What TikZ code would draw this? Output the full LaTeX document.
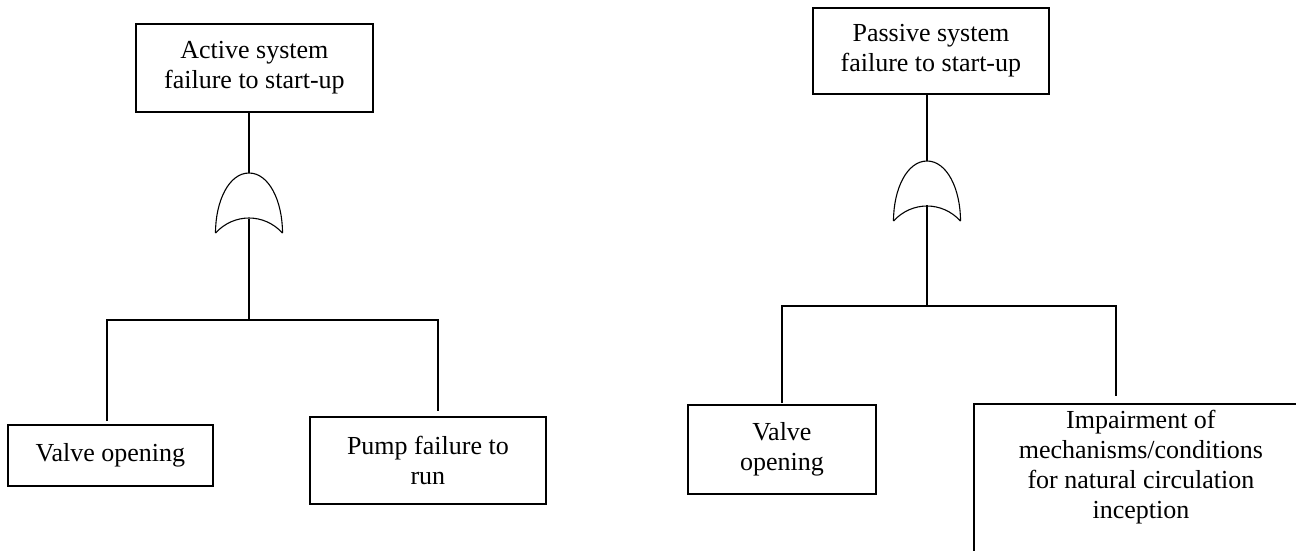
\documentclass[tikz,border=0pt]{standalone}
\usepackage{fontspec}
\setmainfont{Liberation Serif}
\usetikzlibrary{calc}
\newcommand{\evfont}{\fontsize{26}{30}\selectfont}
\tikzset{
     event/.style = {draw, line width=1.8pt, align=center, font=\evfont,
                     inner sep=0pt, anchor=north west},
      link/.style = {line width=1.8pt},
      stem/.style = {line width=2.4pt},
  gateline/.style = {line width=1.1pt},
    orgate/.pic   = {
        \draw[gateline] (-33.5,60) .. controls (-33.5,28) and (-20,0) .. (0,0)
                        .. controls (20,0) and (33.5,28) .. (33.5,60);
        \draw[gateline] (-33.5,60) .. controls (-15,40) and (15,40) .. (33.5,60);
        },
}
\begin{document}
\begin{tikzpicture}[x=1pt, y=-1pt]
  \useasboundingbox (0,0) rectangle (1296,551);
  \clip (0,0) rectangle (1296,551);

  % active system
  \node[event, minimum width=237, minimum height=88] (atop) at (135,23)
       {Active system\\failure to start-up};
  \node[event, minimum width=205, minimum height=61] (avalve) at (7,424)
       {Valve opening};
  \node[event, minimum width=236, minimum height=87] (apump) at (309,416)
       {Pump failure to\\run};

  \coordinate (agate) at (249,173);
  \coordinate (ain)   at ($(agate)+(0,46)$);
  \coordinate (abar)  at (249,320);
  \coordinate (al)    at (107,320);
  \coordinate (ar)    at (438,320);
  \pic at (agate) {orgate};

  \draw[stem] (atop.south -| agate) -- (agate);
  \draw[stem] (ain) -- (abar);
  \draw[link] ($(avalve.north -| al)+(0,-3)$) |- (abar)
              -| ($(apump.north -| ar)+(0,-5)$);

  % passive system
  \node[event, minimum width=236, minimum height=86] (btop) at (812,7)
       {Passive system\\failure to start-up};
  \node[event, minimum width=188, minimum height=89] (bvalve) at (687,404)
       {Valve\\opening};
  \node[event, minimum width=334, minimum height=220] (bimp) at (973,403) {};
  \node[font=\evfont, align=center, inner sep=0pt, anchor=north] (bimptext)
       at ($(bimp.north)+(0,7)$)
       {Impairment of\\mechanisms/conditions\\for natural circulation\\inception};

  \coordinate (bgate) at (927,161);
  \coordinate (bin)   at ($(bgate)+(0,44)$);
  \coordinate (bbar)  at (927,306);
  \coordinate (bl)    at (782,306);
  \coordinate (br)    at (1116,306);
  \pic at (bgate) {orgate};

  \draw[stem] (btop.south -| bgate) -- (bgate);
  \draw[stem] (bin) -- (bbar);
  \draw[link] ($(bvalve.north -| bl)+(0,-1)$) |- (bbar)
              -| ($(bimp.north -| br)+(0,-7)$);
\end{tikzpicture}
\end{document}
